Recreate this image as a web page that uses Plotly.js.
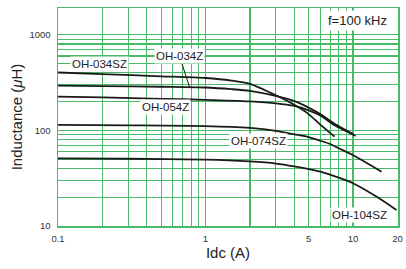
<!DOCTYPE html>
<html>
<head>
<meta charset="utf-8">
<script src="https://cdn.plot.ly/plotly-3.0.1.min.js"></script>
<style>html,body{margin:0;padding:0;background:#fff;}#chart{width:406px;height:269px;}</style>
</head>
<body>
<div id="chart"></div>
<script>
// Idc (A) and inductance (uH)
const idc034SZ = [0.1, 0.2, 0.5, 1, 1.5, 2, 3, 4, 5, 6, 7.5];
const l034SZ   = [403, 388, 368, 353, 332, 307, 233, 185, 148, 115, 86];

const idc034Z = [0.1, 0.2, 0.5, 1, 1.5, 2, 3, 4, 5, 6, 7.5, 9, 10.4];
const l034Z   = [294, 291, 286, 281, 270, 259, 229, 202, 173, 148, 117, 100, 87.5];

const idc054Z = [0.1, 0.2, 0.5, 1, 2, 3, 4, 5, 6, 7.5, 9, 10];
const l054Z   = [226, 221, 214, 209, 201, 192, 180, 162, 143, 113, 98, 90];

const idc074SZ = [0.1, 0.3, 1, 2, 3, 4, 5, 6, 7, 8, 10, 12, 15.6];
const l074SZ   = [114, 113, 111, 106, 99, 91, 85, 78, 72, 65, 55, 47, 37];

const idc104SZ = [0.1, 0.3, 1, 2, 3, 4, 6, 8, 10, 14.4, 19.7];
const l104SZ   = [51, 50.5, 49.5, 47.3, 45, 42, 37, 32, 28, 20.3, 14.7];

const seriesNames = ['OH-034SZ', 'OH-034Z', 'OH-054Z', 'OH-074SZ', 'OH-104SZ'];

const xTickVals = [0.1,0.2,0.3,0.4,0.5,0.6,0.7,0.8,0.9,1,2,3,4,5,6,7,8,9,10,20];
const xTickText = ['0.1','','','','','','','','','1','','','','5','','','','','10','20'];
const yTickVals = [10,20,30,40,50,60,70,80,90,100,200,300,400,500,600,700,800,900,1000];
const yTickText = ['10','','','','','','','','','100','','','','','','','','','1000'];

const xs = [idc034SZ, idc034Z, idc054Z, idc074SZ, idc104SZ];
const ys = [l034SZ, l034Z, l054Z, l074SZ, l104SZ];

const traces = xs.map((x, i) => ({
  x: x, y: ys[i], name: seriesNames[i], type: 'scatter', mode: 'lines',
  line: {color: '#1a1a1a', width: 1.8, shape: 'spline', smoothing: 0.7},
  hoverinfo: 'skip'
}));

const gridC = 'rgb(72,186,104)';
const font = 'Liberation Sans, Arial, sans-serif';
const L = Math.log10;

const annBase = {showarrow: false, bgcolor: '#fff', borderpad: 1,
  font: {family: font, size: 11.5, color: '#222'}, xref: 'x', yref: 'y'};

const layout = {
  width: 406, height: 269,
  margin: {l: 58, r: 8, t: 8, b: 43},
  paper_bgcolor: '#fff', plot_bgcolor: '#fff',
  showlegend: false,
  font: {family: font, color: '#333'},
  xaxis: {
    type: 'log', range: [-1, 1.305],
    tickvals: xTickVals, ticktext: xTickText,
    showgrid: true, gridcolor: gridC, gridwidth: 1.2,
    showline: true, linecolor: gridC, linewidth: 1.5, mirror: true,
    ticks: '', zeroline: false, ticklabelstandoff: 3,
    tickfont: {family: font, size: 9.5, color: '#333'},
    title: {text: 'Idc (A)', font: {family: font, size: 15, color: '#222'}, standoff: 4}
  },
  yaxis: {
    type: 'log', range: [1, 3.28],
    tickvals: yTickVals, ticktext: yTickText,
    showgrid: true, gridcolor: gridC, gridwidth: 1.2,
    showline: true, linecolor: gridC, linewidth: 1.5, mirror: true,
    ticks: '', zeroline: false, ticklabelstandoff: 4,
    tickfont: {family: font, size: 9.5, color: '#333'},
    title: {text: 'Inductance (<i>μ</i>H)', font: {family: font, size: 15, color: '#222'}, standoff: 3}
  },
  annotations: [
    Object.assign({}, annBase, {text: 'OH-034SZ', x: -0.7206, y: 2.696}),
    Object.assign({}, annBase, {text: 'OH-054Z', x: -0.2706, y: 2.241}),
    Object.assign({}, annBase, {text: 'OH-074SZ', x: 0.357, y: 1.890}),
    Object.assign({}, annBase, {text: 'OH-104SZ', x: 1.047, y: 1.118}),
    Object.assign({}, annBase, {text: 'f=100 kHz', x: 1.032, y: 3.152, borderpad: 2,
      font: {family: font, size: 13, color: '#222'}}),
    Object.assign({}, annBase, {text: 'OH-034Z', x: L(0.78), y: L(282),
      showarrow: true, arrowhead: 0, arrowwidth: 1, arrowcolor: '#1a1a1a',
      ax: -10, ay: -31, standoff: 0})
  ]
};

Plotly.newPlot('chart', traces, layout, {staticPlot: true, displayModeBar: false});
</script>
</body>
</html>
